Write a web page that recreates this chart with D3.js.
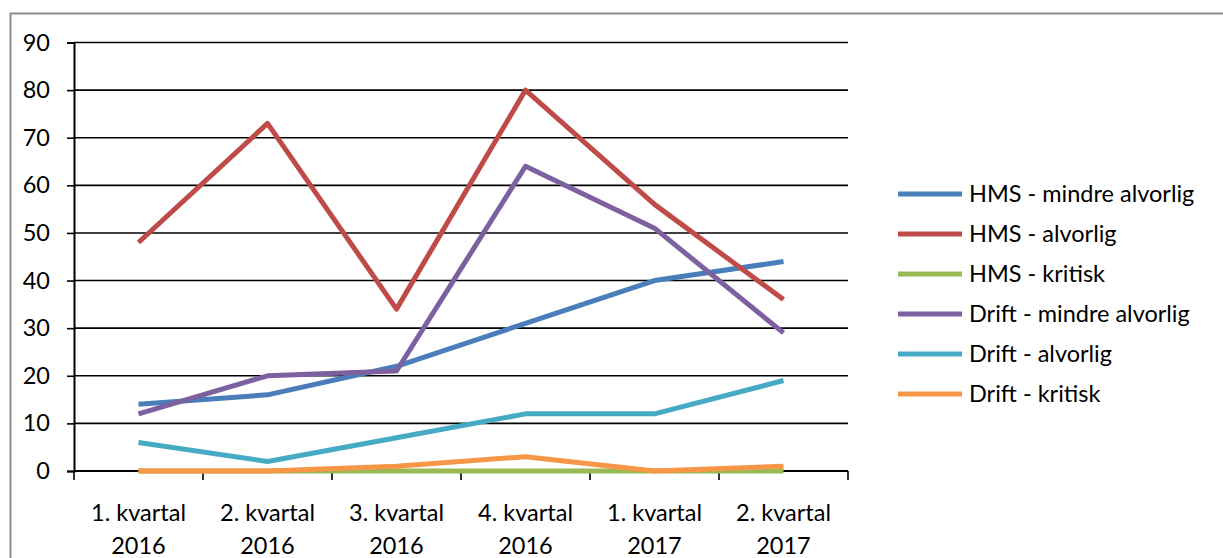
<!DOCTYPE html>
<html>
<head>
<meta charset="utf-8">
<script src="https://d3js.org/d3.v7.min.js"></script>
<style>
body { margin: 0; background: #fff; }
svg { display: block; font-family: Lato, 'Open Sans', sans-serif; }
</style>
</head>
<body>
<svg width="1223" height="558"></svg>
<script>
// kvartaler og serier
var quarters = ["1. kvartal|2016", "2. kvartal|2016", "3. kvartal|2016", "4. kvartal|2016", "1. kvartal|2017", "2. kvartal|2017"];
var seriesNames = ["HMS - mindre alvorlig", "HMS - alvorlig", "HMS - kritisk", "Drift - mindre alvorlig", "Drift - alvorlig", "Drift - kritisk"];
var seriesColors = ["#4A7EBB", "#BE4B48", "#98B954", "#7D60A0", "#46AAC5", "#F79646"];
var hmsMindre = [14, 16, 22, 31, 40, 44];
var hmsAlvorlig = [48, 73, 34, 80, 56, 36];
var hmsKritisk = [0, 0, 0, 0, 0, 0];
var driftMindre = [12, 20, 21, 64, 51, 29];
var driftAlvorlig = [6, 2, 7, 12, 12, 19];
var driftKritisk = [0, 0, 1, 3, 0, 1];
var yTicks = [0, 10, 20, 30, 40, 50, 60, 70, 80, 90];

var allSeries = [hmsMindre, hmsAlvorlig, hmsKritisk, driftMindre, driftAlvorlig, driftKritisk];
var fs = 23.5;

var svg = d3.select("svg");

// ramme rundt diagrammet
svg.append("rect")
  .attr("x", 10.5).attr("y", 13.5)
  .attr("width", 1230).attr("height", 560)
  .attr("fill", "none")
  .attr("stroke", "#8c8c8c")
  .attr("stroke-width", 2);

var x = d3.scaleBand().domain(quarters).range([74, 848]);
var y = d3.scaleLinear().domain([0, 90]).range([471, 42.5]);

// gridlinjer
svg.append("g").selectAll("line")
  .data(yTicks.slice(1))
  .join("line")
  .attr("x1", 74).attr("x2", 848)
  .attr("y1", d => y(d)).attr("y2", d => y(d))
  .attr("stroke", "#000")
  .attr("stroke-width", 1.6);

// y-akse
var yAxis = d3.axisLeft(y).tickValues(yTicks).tickSize(7).tickPadding(17);
var gy = svg.append("g").attr("transform", "translate(74,0)").call(yAxis);
gy.select(".domain").attr("stroke", "#000").attr("stroke-width", 2);
gy.selectAll(".tick line").attr("stroke", "#000").attr("stroke-width", 1.6);
gy.selectAll(".tick text").attr("font-size", fs).attr("fill", "#000").attr("font-family", "Lato, 'Open Sans', sans-serif");

// x-akse
var xAxis = d3.axisBottom(x).tickSize(0).tickFormat("");
var gx = svg.append("g").attr("transform", "translate(0,471)").call(xAxis);
gx.select(".domain").remove();
gx.append("line").attr("x1", 74).attr("x2", 848).attr("stroke", "#000").attr("stroke-width", 2);
var bounds = quarters.map(d => x(d)).concat([848]);
gx.selectAll(".sep").data(bounds).join("line")
  .attr("x1", d => d).attr("x2", d => d)
  .attr("y1", 0).attr("y2", 9)
  .attr("stroke", "#000").attr("stroke-width", 1.6);

var labels = svg.append("g").selectAll("text")
  .data(quarters)
  .join("text")
  .attr("x", d => x(d) + x.bandwidth() / 2)
  .attr("text-anchor", "middle")
  .attr("font-size", fs)
  .attr("fill", "#000");
labels.append("tspan").attr("x", d => x(d) + x.bandwidth() / 2).attr("y", 521).text(d => d.split("|")[0]);
labels.append("tspan").attr("x", d => x(d) + x.bandwidth() / 2).attr("y", 554).text(d => d.split("|")[1]);

// linjer
var line = d3.line()
  .x((d, i) => x(quarters[i]) + x.bandwidth() / 2)
  .y(d => y(d));

svg.append("g").selectAll("path")
  .data(allSeries)
  .join("path")
  .attr("d", d => line(d))
  .attr("fill", "none")
  .attr("stroke", (d, i) => seriesColors[i])
  .attr("stroke-width", 5)
  .attr("stroke-linejoin", "round");

// tegnforklaring
var legend = svg.append("g").selectAll("g")
  .data(seriesNames)
  .join("g")
  .attr("transform", (d, i) => "translate(898," + (194 + i * 40) + ")");
legend.append("line")
  .attr("x1", 0).attr("x2", 64)
  .attr("stroke", (d, i) => seriesColors[i])
  .attr("stroke-width", 5);
legend.append("text")
  .attr("x", 71).attr("dy", "0.35em")
  .attr("font-size", fs)
  .attr("fill", "#000")
  .text(d => d);
</script>
</body>
</html>
